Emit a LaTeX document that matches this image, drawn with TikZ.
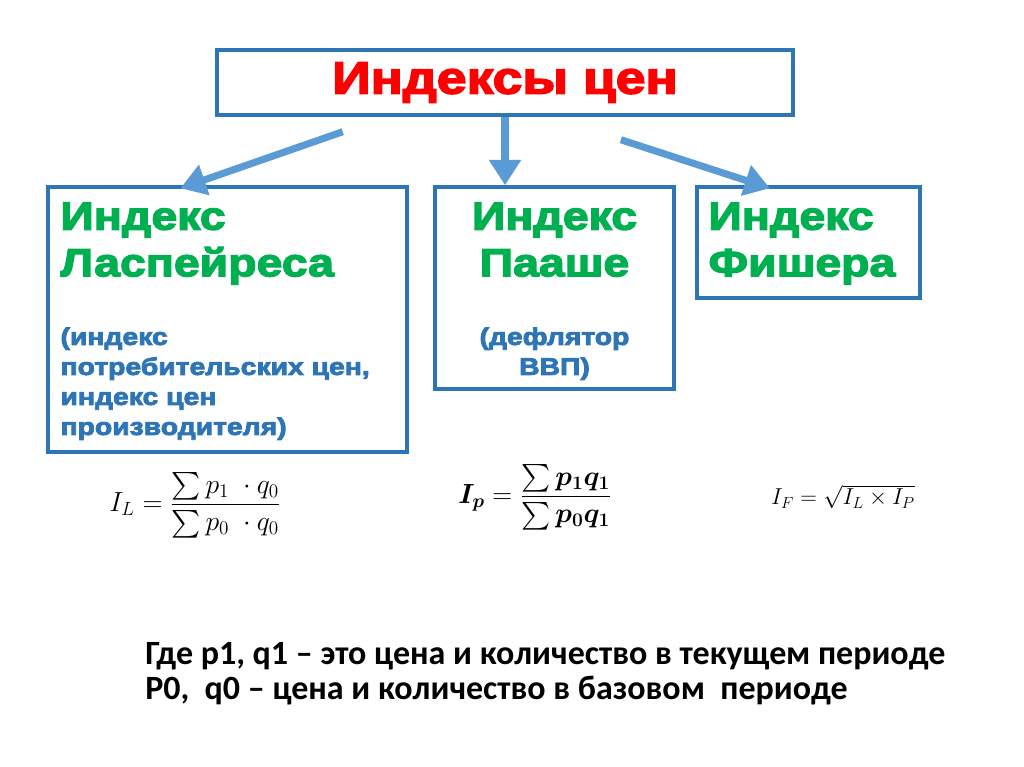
\documentclass[tikz,border=0pt]{standalone}
\usepackage{amsmath}
\usepackage[no-math]{fontspec}
\setmainfont{Carlito}
\newfontfamily\heavyfont[FakeBold=3.5,FakeStretch=1.18]{Liberation Sans Bold}
\usetikzlibrary{arrows.meta, positioning, calc}
\definecolor{boxblue}{HTML}{2E75B6}
\definecolor{arrowblue}{HTML}{5B9BD5}
\definecolor{idxgreen}{HTML}{00B050}
\definecolor{titlered}{HTML}{FF0000}

\begin{document}
\begin{tikzpicture}[x=0.75pt,y=-0.75pt,>=Stealth,
    box/.style={draw=boxblue,line width=2.6pt,fill=white,inner sep=0pt},
    arrow/.style={draw=arrowblue,line width=5.3pt,
      -{Triangle[length=19pt,width=23pt]}},
    idxname/.style={font=\heavyfont\fontsize{29.5}{35}\selectfont,
      text=idxgreen,inner sep=0pt},
    idxnote/.style={font=\heavyfont\fontsize{18}{22.5}\selectfont,
      text=boxblue,inner sep=0pt},
    formula/.style={font=\fontsize{20}{24}\selectfont,inner sep=0pt}]
  \fill[white] (0,0) rectangle (1024,767);
  \useasboundingbox (0,0) rectangle (1024,767);

  \node[box,minimum width=432pt,minimum height=48.75pt] (title) at (505,82.5)
    {\heavyfont\fontsize{34}{40}\selectfont\color{titlered}Индексы цен};
  \node[box,minimum width=269.25pt,minimum height=198.75pt] (laspeyres) at (227.5,319.5) {};
  \node[box,minimum width=179.25pt,minimum height=151.5pt] (paasche) at (554.5,288) {};
  \node[box,minimum width=167.25pt,minimum height=83.25pt] (fisher) at (808.5,242.5) {};

  \node[idxname,anchor=north west,align=left] (lasname)
    at ([shift={(14,17)}]laspeyres.north west) {Индекс\\Ласпейреса};
  \node[idxnote,anchor=north west,align=left] (lasnote)
    at ([shift={(14,142)}]laspeyres.north west)
    {(индекс\\потребительских цен,\\индекс цен\\производителя)};
  \node[idxname,anchor=north,align=center] (pasname)
    at ([shift={(0,17)}]paasche.north) {Индекс\\Пааше};
  \node[idxnote,anchor=north,align=center] (pasnote)
    at ([shift={(0,142)}]paasche.north) {(дефлятор\\ВВП)};
  \node[idxname,anchor=north west,align=left] (fishname)
    at ([shift={(13,17)}]fisher.north west) {Индекс\\Фишера};

  \draw[arrow] ($(title.south west)!0.22!(title.south east)+(0,15)$)
    -- ($(laspeyres.north west)!0.37!(laspeyres.north east)+(0,3)$);
  \draw[arrow] (title.south) -- (title.south |- paasche.north);
  \draw[arrow] ($(title.south west)!0.70!(title.south east)+(0,23)$)
    -- ($(fisher.north west)!0.33!(fisher.north east)+(0,3)$);

  \node[formula] (fL) at (195,505)
    {$I_L=\dfrac{\sum p_1\;\cdot q_0}{\sum p_0\;\cdot q_0}$};
  \node[formula] (fP) at (535,497)
    {$\boldsymbol{I_p}=\dfrac{\sum\boldsymbol{p_1q_1}}{\sum\boldsymbol{p_0q_1}}$};
  \node[formula,font=\fontsize{18}{22}\selectfont] (fF) at (843,497)
    {$I_F=\sqrt{I_L\times I_P}$};

  \node[font=\bfseries\fontsize{25.5}{26.25}\selectfont,anchor=north west,
    align=left,inner sep=0pt] (note) at (145,642)
    {Где p1, q1 – это цена и количество в текущем периоде\\
     P0,\ \ q0 – цена и количество в базовом\ \ периоде};
\end{tikzpicture}
\end{document}
